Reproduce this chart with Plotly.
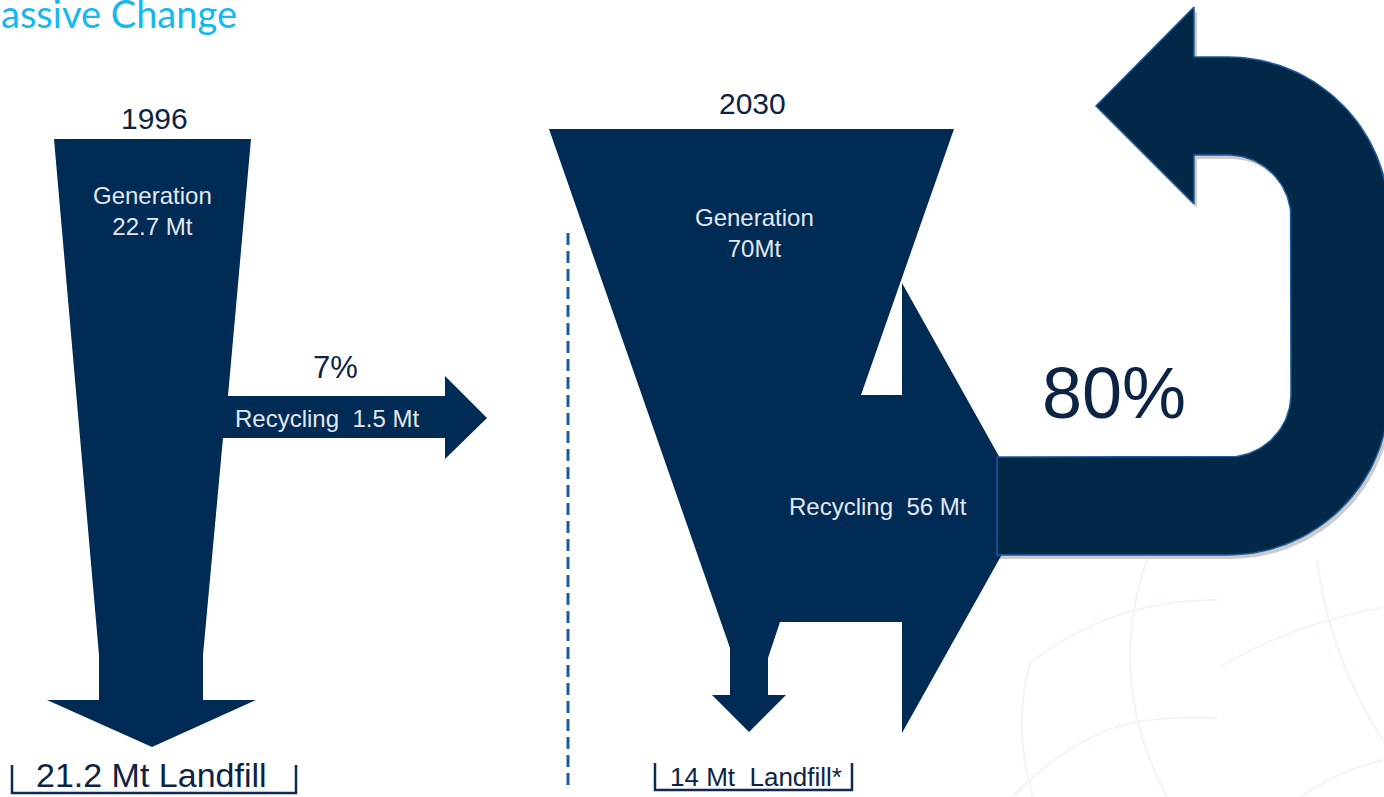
import numpy as np
import plotly.graph_objects as go

# ---------------- data ----------------
years = ["1996", "2030"]
generation_mt = [22.7, 70]
recycling_mt = [1.5, 56]
landfill_mt = [21.2, 14]
recycling_rate_pct = [7, 80]
title_text = "assive Change"   # visible part of the slide title

# ---------------- diagram geometry (layout, pixel-like canvas units) ----------------
W, H = 1384, 797
NAVY = "#002b54"
NAVY_DARK = "#022847"
TEXT_DARK = "#0c2444"
TEXT_LIGHT = "#e4e8ee"

flow_1996 = dict(
    x=[54, 251, 228, 445, 445, 487, 445, 445, 223, 203, 203, 256, 152, 47, 99, 99, 54],
    y=[139, 139, 396, 396, 376, 418, 459, 438, 438, 655, 700, 700, 747, 700, 700, 655, 139],
)
flow_2030 = dict(
    x=[549, 954, 861, 902, 902, 1028, 902, 902, 780, 768, 768, 786, 749, 712, 730, 730, 549],
    y=[129, 129, 395, 395, 283, 508, 733, 622, 622, 658, 695, 695, 732, 695, 695, 648, 129],
)


def arc(cx, cy, r, a0, a1, n=40):
    t = np.radians(np.linspace(a0, a1, n))
    return list(cx + r * np.cos(t)), list(cy + r * np.sin(t))


def u_turn(cx=1228, y_bot_in=457, y_top_in=155, r_in=63, thick=98, x_start=997,
           back=1194, tip=(1096, 106), head_top=7, head_bot=204):
    r_out = r_in + thick
    cy_bot = y_bot_in - r_in
    cy_top = y_top_in + r_in
    xs, ys = [x_start, cx], [y_bot_in, y_bot_in]
    ax, ay = arc(cx, cy_bot, r_in, 90, 0)
    xs += ax; ys += ay
    ax, ay = arc(cx, cy_top, r_in, 0, -90)
    xs += ax; ys += ay
    xs += [back, back, tip[0], back, back]
    ys += [y_top_in, head_bot, tip[1], head_top, y_top_in - thick]
    ax, ay = arc(cx, cy_top, r_out, -90, 0)
    xs += ax; ys += ay
    ax, ay = arc(cx, cy_bot, r_out, 0, 90)
    xs += ax; ys += ay
    xs += [x_start, x_start]
    ys += [y_bot_in + thick, y_bot_in]
    return xs, ys


fig = go.Figure()


def poly(x, y, fill, line_color=None, line_width=0):
    fig.add_trace(go.Scatter(
        x=x, y=y, mode="lines", fill="toself", fillcolor=fill,
        line=dict(color=line_color or fill, width=line_width),
        hoverinfo="skip", showlegend=False))


def line(x, y, color, width, dash="solid"):
    fig.add_trace(go.Scatter(
        x=x, y=y, mode="lines", line=dict(color=color, width=width, dash=dash),
        hoverinfo="skip", showlegend=False))


# faint background globe lines
bg_paths = [
    "M 1030 663 Q 1110 600 1217 600",
    "M 1147 560 Q 1105 680 1167 797",
    "M 1030 663 Q 1012 730 1033 797",
    "M 1012 797 Q 1070 738 1130 723 Q 1170 716 1217 718",
    "M 1317 560 Q 1330 660 1384 742",
    "M 1220 667 Q 1290 625 1384 607",
    "M 1300 797 Q 1340 770 1384 760",
]
shapes = [dict(type="path", path=p, xref="x", yref="y",
               line=dict(color="#edf5fa", width=2), layer="below") for p in bg_paths]

poly(flow_1996["x"], flow_1996["y"], NAVY)
poly(flow_2030["x"], flow_2030["y"], NAVY)
ux, uy = u_turn()
poly([v + 3 for v in ux], [v + 4 for v in uy], "rgba(0,0,0,0.2)")
poly(ux, uy, NAVY_DARK, line_color="#1f5c9e", line_width=1.5)

line([568, 568], [233, 790], "#1a5c9c", 3, dash="12px,6px")

line([12, 12, 296, 296], [765, 793, 793, 765], "#0d2a52", 2.5)
line([655, 655, 852, 852], [763, 790, 790, 763], "#0d2a52", 2.5)

FONT = "Liberation Sans, Arial, sans-serif"
ann = []


def text(x, y, s, size, color, family=FONT, xanchor="center", yanchor="middle"):
    ann.append(dict(x=x, y=y, xref="x", yref="y", text=s, showarrow=False,
                    xanchor=xanchor, yanchor=yanchor, borderpad=0,
                    font=dict(family=family, size=size, color=color)))


NB = "\u00a0"
text(0, 13, title_text, 38, "#12b8ee", family="Lato, Open Sans, sans-serif", xanchor="left")

# 1996
text(154, 118, years[0], 30, TEXT_DARK)
text(152, 211, f"Generation<br>{generation_mt[0]:g} Mt", 24, TEXT_LIGHT)
text(335, 367, f"{recycling_rate_pct[0]}%", 31, TEXT_DARK)
text(327, 418, f"Recycling {NB}{recycling_mt[0]:g} Mt", 24, TEXT_LIGHT)
text(151, 775, f"{landfill_mt[0]:g} Mt Landfill", 34, TEXT_DARK)

# 2030
text(752, 103, years[1], 30, TEXT_DARK)
text(754, 233, f"Generation<br>{generation_mt[1]:g}Mt", 24, TEXT_LIGHT)
text(878, 506, f"Recycling {NB}{recycling_mt[1]:g} Mt", 24, TEXT_LIGHT)
text(1114, 393, f"{recycling_rate_pct[1]}%", 72, TEXT_DARK)
text(756, 777, f"{landfill_mt[1]:g} Mt {NB}Landfill*", 26, TEXT_DARK)

fig.update_layout(
    width=W, height=H, margin=dict(l=0, r=0, t=0, b=0),
    paper_bgcolor="white", plot_bgcolor="white",
    xaxis=dict(range=[0, W], visible=False, fixedrange=True),
    yaxis=dict(range=[H, 0], visible=False, fixedrange=True),
    shapes=shapes, annotations=ann, showlegend=False,
)

fig.write_html("out.html")
